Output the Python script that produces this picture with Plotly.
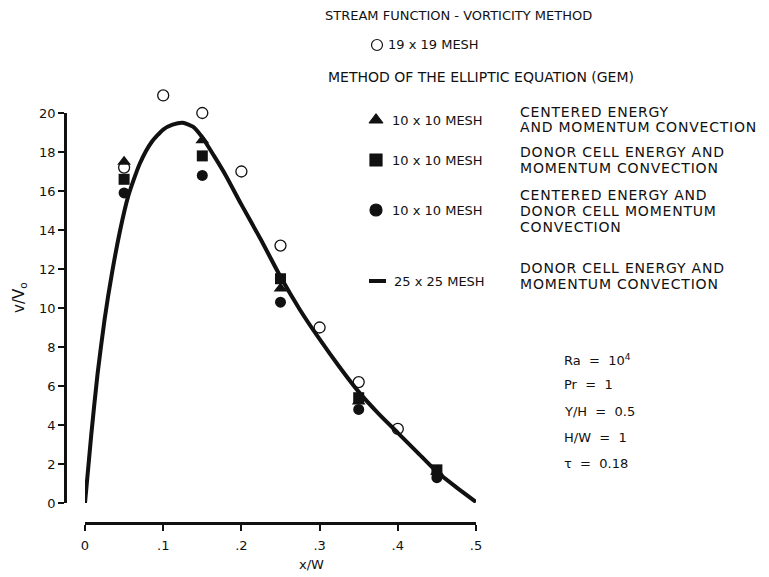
import plotly.graph_objects as go

# page body has an 8px margin; figure is sized to fill the rest of the window
OFF = 8
W, H = 769 - OFF, 577 - OFF

# ---- data ----
curve_x = [0, 0.008, 0.016, 0.025, 0.035, 0.045, 0.055, 0.07, 0.085, 0.1, 0.112, 0.125,
           0.138, 0.15, 0.165, 0.18, 0.2, 0.225, 0.25, 0.275, 0.3, 0.325, 0.35, 0.375,
           0.4, 0.425, 0.45, 0.475, 0.5]
curve_y = [0, 3.5, 6.6, 9.4, 11.9, 14.0, 15.7, 17.4, 18.5, 19.15, 19.4, 19.5,
           19.3, 18.75, 17.8, 16.8, 15.3, 13.5, 11.6, 9.9, 8.4, 7.0, 5.7, 4.6,
           3.6, 2.6, 1.6, 0.8, 0.05]

sv_x = [0.05, 0.1, 0.15, 0.2, 0.25, 0.3, 0.35, 0.4]
sv_y = [17.2, 20.9, 20.0, 17.0, 13.2, 9.0, 6.2, 3.8]

tri_x = [0.05, 0.15, 0.25, 0.35, 0.45]
tri_y = [17.5, 18.6, 11.0, 5.2, 1.6]

sq_x = [0.05, 0.15, 0.25, 0.35, 0.45]
sq_y = [16.6, 17.8, 11.5, 5.4, 1.7]

dot_x = [0.05, 0.15, 0.25, 0.35, 0.45]
dot_y = [15.9, 16.8, 10.3, 4.8, 1.3]

x_ticks = [0, 0.1, 0.2, 0.3, 0.4, 0.5]
x_ticklabels = ["0", ".1", ".2", ".3", ".4", ".5"]
y_ticks = list(range(0, 21, 2))

FONT = "DejaVu Sans"
BLACK = "#111111"

Y0_PX, Y20_PX = 503, 113          # screen rows of y=0 and y=20
PX_PER_UNIT = (Y0_PX - Y20_PX) / 20.0
Y_DATA_MAX = 22                   # data axis reaches a little higher so points above 20 show
YTOP_DATA_PX = Y0_PX - PX_PER_UNIT * Y_DATA_MAX


def px_x(p):
    return (p - OFF) / W


def px_y(p):
    return 1 - (p - OFF) / H


fig = go.Figure()

# placeholder on the visible frame axes
fig.add_trace(go.Scatter(x=[None], y=[None], xaxis="x", yaxis="y", showlegend=False,
                         hoverinfo="skip"))

fig.add_trace(go.Scatter(x=curve_x, y=curve_y, mode="lines", yaxis="y3", cliponaxis=False,
                         line=dict(color=BLACK, width=4, shape="spline", smoothing=0.6),
                         showlegend=False, hoverinfo="skip"))
fig.add_trace(go.Scatter(x=tri_x, y=tri_y, mode="markers", yaxis="y3", cliponaxis=False,
                         marker=dict(symbol="triangle-up", size=12, color=BLACK),
                         showlegend=False))
fig.add_trace(go.Scatter(x=sq_x, y=sq_y, mode="markers", yaxis="y3", cliponaxis=False,
                         marker=dict(symbol="square", size=11, color=BLACK),
                         showlegend=False))
fig.add_trace(go.Scatter(x=dot_x, y=dot_y, mode="markers", yaxis="y3", cliponaxis=False,
                         marker=dict(symbol="circle", size=11, color=BLACK),
                         showlegend=False))
fig.add_trace(go.Scatter(x=sv_x, y=sv_y, mode="markers", yaxis="y3", cliponaxis=False,
                         marker=dict(symbol="circle-open", size=11, color=BLACK,
                                     line=dict(width=1.3, color=BLACK)),
                         showlegend=False))

# legend symbols on an overlay pixel-space axis pair (screen pixel coordinates)
leg_sym_x = [377, 376, 376, 376]
leg_sym_y = [45, 120, 160, 210]
leg_syms = ["circle-open", "triangle-up", "square", "circle"]
for sx, sy, sym in zip(leg_sym_x, leg_sym_y, leg_syms):
    fig.add_trace(go.Scatter(x=[sx], y=[sy], mode="markers", xaxis="x2", yaxis="y2",
                             cliponaxis=False,
                             marker=dict(symbol=sym, size=12 if sym != "circle-open" else 11,
                                         color=BLACK, line=dict(width=1.2, color=BLACK)),
                             showlegend=False, hoverinfo="skip"))
fig.add_trace(go.Scatter(x=[369, 386], y=[281, 281], mode="lines", xaxis="x2", yaxis="y2",
                         cliponaxis=False,
                         line=dict(color=BLACK, width=4), showlegend=False, hoverinfo="skip"))

ann = []


def text(x, y, s, size=12, anchor="left", ls=None):
    if ls:
        s = '<span style="letter-spacing:%spx">%s</span>' % (ls, s)
    ann.append(dict(x=px_x(x), y=px_y(y), xref="paper", yref="paper", text=s,
                    showarrow=False, xanchor=anchor, yanchor="middle",
                    font=dict(family=FONT, size=size, color=BLACK)))


text(323, 15, "STREAM FUNCTION - VORTICITY METHOD", size=13)
text(386, 45, "19 x 19 MESH", size=13)
text(326, 77, "METHOD OF THE ELLIPTIC EQUATION (GEM)", size=14)
text(390, 120, "10 x 10 MESH", size=13)
text(390, 160, "10 x 10 MESH", size=13)
text(390, 210, "10 x 10 MESH", size=13)
text(392, 281, "25 x 25 MESH", size=13)

RC = 518
LS = 0.8
text(RC, 112, "CENTERED ENERGY", size=14, ls=LS)
text(RC, 127, "AND MOMENTUM CONVECTION", size=14, ls=LS)
text(RC, 152, "DONOR CELL ENERGY AND", size=14, ls=LS)
text(RC, 168, "MOMENTUM CONVECTION", size=14, ls=LS)
text(RC, 195, "CENTERED ENERGY AND", size=14, ls=LS)
text(RC, 211, "DONOR CELL MOMENTUM", size=14, ls=LS)
text(RC, 227, "CONVECTION", size=14, ls=LS)
text(RC, 268, "DONOR CELL ENERGY AND", size=14, ls=LS)
text(RC, 284, "MOMENTUM CONVECTION", size=14, ls=LS)

text(562, 360, "Ra  =  10<sup>4</sup>", size=13)
text(562, 384, "Pr  =  1", size=13)
text(562, 411, "Y/H  =  0.5", size=13)
text(562, 437, "H/W  =  1", size=13)
text(562, 463, "τ  =  0.18", size=13)

text(311, 564, "x/W", size=13, anchor="center")
ann.append(dict(x=px_x(19), y=px_y(298), xref="paper", yref="paper",
                text="v/V<sub>o</sub>", textangle=-90, showarrow=False,
                xanchor="center", yanchor="middle",
                font=dict(family=FONT, size=15, color=BLACK)))

fig.update_layout(
    width=W, height=H,
    margin=dict(l=0, r=0, t=0, b=0, autoexpand=False),
    paper_bgcolor="white", plot_bgcolor="rgba(0,0,0,0)",
    annotations=ann,
    xaxis=dict(domain=[px_x(85), px_x(476)], range=[0, 0.5], anchor="free",
               position=px_y(523), tickvals=x_ticks, ticktext=x_ticklabels,
               ticks="outside", ticklen=6, tickwidth=2, tickcolor=BLACK,
               ticklabelstandoff=4,
               showline=True, linecolor=BLACK, linewidth=2.5, showgrid=False,
               zeroline=False, automargin=False,
               tickfont=dict(family=FONT, size=13, color=BLACK)),
    yaxis=dict(domain=[px_y(Y0_PX), px_y(Y20_PX)], range=[0, 20], anchor="free",
               position=px_x(65), tickvals=y_ticks,
               ticks="outside", ticklen=6, tickwidth=2, tickcolor=BLACK,
               showline=True, linecolor=BLACK, linewidth=2.5, showgrid=False,
               zeroline=False, automargin=False,
               tickfont=dict(family=FONT, size=13, color=BLACK)),
    yaxis3=dict(domain=[px_y(Y0_PX), px_y(YTOP_DATA_PX)], range=[0, Y_DATA_MAX],
                anchor="x", visible=False, showgrid=False, zeroline=False,
                automargin=False, fixedrange=True),
    xaxis2=dict(domain=[0, 1], range=[OFF, OFF + W], visible=False, anchor="y2",
                fixedrange=True, automargin=False),
    yaxis2=dict(domain=[0, 1], range=[OFF + H, OFF], visible=False, anchor="x2",
                fixedrange=True, automargin=False),
)

fig.write_html("out.html")
